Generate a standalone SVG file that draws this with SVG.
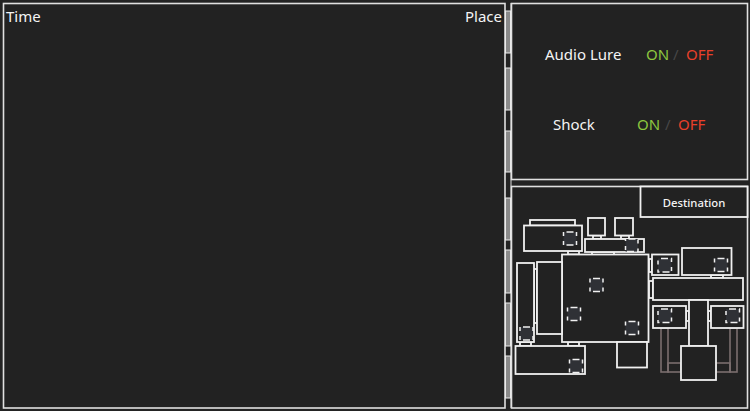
<svg xmlns="http://www.w3.org/2000/svg" width="750" height="411" viewBox="0 0 750 411">
<style>
.panel{fill:#222222;stroke:#e0e0e0;stroke-width:1.6}
.room{fill:#222222;stroke:#f0f0f0;stroke-width:1.8}
.cam{fill:#2f3136;stroke:#f0f0f0;stroke-width:1.5;stroke-dasharray:7 3 4 5 4 3;stroke-dashoffset:23}
.pipe{fill:none;stroke:#7b6e6e;stroke-width:1.6}
.seg{fill:#8a8a8a;stroke:#ececec;stroke-width:1}
.lbl{font-family:"Noto Sans","Open Sans",sans-serif;font-size:15px;fill:#f4f4f4}
.on{fill:#8dc63f}
.off{fill:#e8402a}
.sl{fill:#474747}
</style>
<rect width="750" height="411" fill="#232323"/>
<g id="time-place-panel">
<rect class="panel" x="3.5" y="3.5" width="501.5" height="404.5"/>
<text class="lbl" x="6" y="22">Time</text>
<text class="lbl" x="502" y="22" text-anchor="end">Place</text>
</g>
<g id="scroll-strip">
<line x1="511" y1="3" x2="511" y2="408" stroke="#e0e0e0" stroke-width="1"/>
<rect class="seg" x="505.5" y="11" width="5" height="42"/>
<rect class="seg" x="505.5" y="68" width="5" height="42"/>
<rect class="seg" x="505.5" y="131" width="5" height="41"/>
<rect class="seg" x="505.5" y="198" width="5" height="42"/>
<rect class="seg" x="505.5" y="250" width="5" height="43"/>
<rect class="seg" x="505.5" y="303" width="5" height="43"/>
<rect class="seg" x="505.5" y="356" width="5" height="42"/>
</g>
<g id="controls-panel">
<rect class="panel" x="511.5" y="3.5" width="236" height="176"/>
<text class="lbl" x="545" y="60">Audio Lure</text>
<text class="lbl on" x="646" y="60">ON</text>
<text class="lbl sl" x="673" y="60">/</text>
<text class="lbl off" x="686" y="60">OFF</text>
<text class="lbl" x="553" y="130">Shock</text>
<text class="lbl on" x="637" y="130">ON</text>
<text class="lbl sl" x="665" y="130">/</text>
<text class="lbl off" x="678" y="130">OFF</text>
</g>
<g id="map-panel">
<rect class="panel" x="511.5" y="186.5" width="236" height="221.5"/>
<rect class="room" x="640.5" y="186.5" width="107" height="30.5"/>
<text x="694" y="207" text-anchor="middle" font-family="Noto Sans, Open Sans, sans-serif" font-size="11.3" font-weight="500" fill="#f4f4f4">Destination</text>
</g>
<g id="connectors">
<rect class="room" x="593" y="235.5" width="8" height="3.5"/>
<rect class="room" x="621" y="235.5" width="8" height="3.5"/>
<rect class="room" x="592" y="252" width="22" height="3"/>
<rect class="room" x="568" y="251" width="11" height="3.5"/>
<rect class="room" x="534" y="269" width="3" height="54"/>
<rect class="room" x="520" y="342" width="11" height="4"/>
<rect class="room" x="568" y="342" width="11" height="4"/>
<rect class="room" x="649" y="259" width="3" height="13"/>
<rect class="room" x="649" y="281" width="4" height="17"/>
<rect class="room" x="711" y="275" width="12" height="3"/>
<rect class="room" x="686" y="311" width="3" height="10"/>
<rect class="room" x="708" y="311" width="3" height="10"/>
<rect class="pipe" x="661" y="328" width="7" height="44"/>
<rect class="pipe" x="668" y="363" width="13" height="9"/>
<rect class="pipe" x="730" y="328" width="7" height="44"/>
<rect class="pipe" x="716" y="363" width="14" height="9"/>
</g>
<g id="room-a">
<rect class="room" x="530" y="220" width="45" height="5.5"/>
<rect class="room" x="524" y="225.5" width="58" height="25.5"/>
<rect class="cam" x="563.5" y="232" width="13" height="13"/>
</g>
<g id="room-b"><rect class="room" x="588" y="218" width="17" height="17.5"/></g>
<g id="room-c"><rect class="room" x="615" y="218" width="18" height="17.5"/></g>
<g id="room-d">
<rect class="room" x="585" y="239" width="59" height="13"/>
<rect class="cam" x="625.5" y="239" width="12.5" height="12.5"/>
</g>
<g id="room-main">
<rect class="room" x="562" y="254.5" width="86.5" height="87.5"/>
<rect class="cam" x="590" y="278.5" width="13" height="13"/>
<rect class="cam" x="567.5" y="307.5" width="13" height="13"/>
<rect class="cam" x="625.5" y="321.5" width="13" height="13"/>
</g>
<g id="room-west-1">
<rect class="room" x="517" y="263" width="17" height="79"/>
<rect class="cam" x="520" y="327" width="13" height="13"/>
</g>
<g id="room-west-2"><rect class="room" x="537" y="262" width="25" height="72"/></g>
<g id="room-southwest">
<rect class="room" x="515.5" y="346" width="69.5" height="28"/>
<rect class="cam" x="569.5" y="359.5" width="13" height="13"/>
</g>
<g id="room-south"><rect class="room" x="617" y="342" width="30" height="25.5"/></g>
<g id="room-east-1">
<rect class="room" x="652" y="254.5" width="26.5" height="20.5"/>
<rect class="cam" x="658" y="258.5" width="13.5" height="13.5"/>
</g>
<g id="room-east-2">
<rect class="room" x="682" y="248" width="49.5" height="27"/>
<rect class="cam" x="714.5" y="258.5" width="13" height="13"/>
</g>
<g id="room-hall"><rect class="room" x="653" y="278" width="90" height="22"/></g>
<g id="room-corridor"><rect class="room" x="689" y="300" width="19" height="46"/></g>
<g id="room-east-3">
<rect class="room" x="653" y="306" width="33" height="22"/>
<rect class="cam" x="658" y="309" width="13.5" height="13.5"/>
</g>
<g id="room-east-4">
<rect class="room" x="711" y="306" width="32.5" height="22"/>
<rect class="cam" x="726" y="309" width="13.5" height="13.5"/>
</g>
<g id="room-bottom"><rect class="room" x="681" y="346" width="35" height="34"/></g>
</svg>
